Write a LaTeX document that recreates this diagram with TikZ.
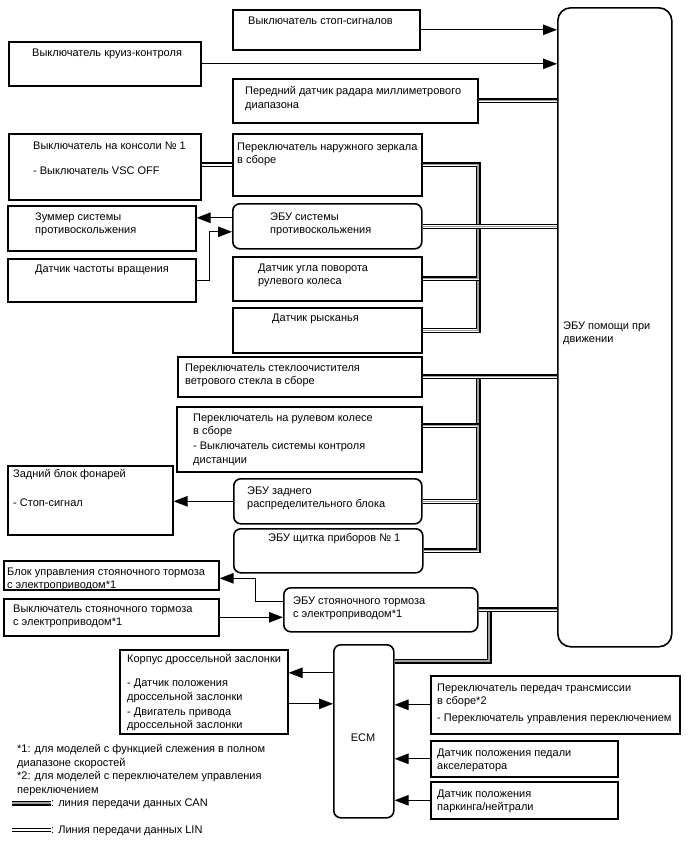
\documentclass[tikz,border=0pt]{standalone}
\usepackage{fontspec}
\setmainfont{Liberation Sans}
\usetikzlibrary{arrows.meta}

\begin{document}
\begin{tikzpicture}[
    x=1pt, y=-1pt,
    blk/.style={draw, rectangle, line width=1.6pt, anchor=north west, inner sep=0pt},
    ecu/.style={blk, rounded corners=7pt},
    txt/.style={anchor=north west, inner sep=0pt, yshift=-1.5pt, align=left, font=\fontsize{11}{13.5}\selectfont},
    arrow/.style={-{Triangle[length=14pt,width=10.5pt]}, line width=1pt},
    can/.style={draw=black, line width=5pt, postaction={draw=white, line width=2.6pt}, postaction={draw=gray!75, line width=1.2pt}},
    lin/.style={line width=1.6pt, double=white, double distance=1.6pt}
]
\useasboundingbox (0,0) rectangle (688,852);

% main ECU
\node[ecu, rounded corners=13pt, minimum width=114pt, minimum height=639pt] (assist) at (557,7) {};
\node[txt] (assist-t) at (563,320) {ЭБУ помощи при\\движении};

% upper inputs
\node[blk, minimum width=187pt, minimum height=40pt] (stop) at (232,9) {};
\node[txt] (stop-t) at (248,15) {Выключатель стоп-сигналов};
\node[blk, minimum width=192pt, minimum height=44pt] (cruise) at (8,41) {};
\node[txt] (cruise-t) at (32,47) {Выключатель круиз-контроля};
\node[blk, minimum width=245pt, minimum height=44pt] (radar) at (232,78) {};
\node[txt] (radar-t) at (245,85) {Передний датчик радара миллиметрового\\диапазона};
\node[blk, minimum width=192pt, minimum height=66pt] (console) at (8,133) {};
\node[txt] (console-t) at (33,140) {Выключатель на консоли № 1\\[11.5pt]- Выключатель VSC OFF};
\node[blk, minimum width=189pt, minimum height=62pt] (mirror) at (232,133) {};
\node[txt] (mirror-t) at (237,141) {Переключатель наружного зеркала\\в сборе};

% skid control group
\node[blk, minimum width=188pt, minimum height=45pt] (buzzer) at (7,205) {};
\node[txt] (buzzer-t) at (35,211) {Зуммер системы\\противоскольжения};
\node[blk, minimum width=188pt, minimum height=43pt] (speed) at (7,258) {};
\node[txt] (speed-t) at (35,263) {Датчик частоты вращения};
\node[ecu, minimum width=189pt, minimum height=45pt] (skid) at (232,203) {};
\node[txt] (skid-t) at (270,211) {ЭБУ системы\\противоскольжения};
\node[blk, minimum width=189pt, minimum height=44pt] (angle) at (232,256) {};
\node[txt] (angle-t) at (258,262) {Датчик угла поворота\\рулевого колеса};
\node[blk, minimum width=189pt, minimum height=45pt] (yaw) at (232,307) {};
\node[txt] (yaw-t) at (272,312) {Датчик рысканья};

% body group
\node[blk, minimum width=244pt, minimum height=40pt] (wiper) at (177,356) {};
\node[txt] (wiper-t) at (185,362) {Переключатель стеклоочистителя\\ветрового стекла в сборе};
\node[blk, minimum width=245pt, minimum height=65pt] (wheelsw) at (176,406) {};
\node[txt] (wheelsw-t) at (193,412) {Переключатель на рулевом колесе\\в сборе\\[1.5pt]- Выключатель системы контроля\\дистанции};
\node[blk, minimum width=165pt, minimum height=69pt] (lamp) at (7,465) {};
\node[txt] (lamp-t) at (13,468) {Задний блок фонарей\\[15.5pt]- Стоп-сигнал};
\node[ecu, minimum width=188pt, minimum height=45pt] (rear) at (233,478) {};
\node[txt] (rear-t) at (247,485) {ЭБУ заднего\\распределительного блока};
\node[ecu, minimum width=189pt, minimum height=44pt] (meter) at (233,528) {};
\node[txt] (meter-t) at (268,532) {ЭБУ щитка приборов № 1};

% parking brake group
\node[blk, minimum width=215pt, minimum height=29pt] (epbunit) at (3,560) {};
\node[txt] (epbunit-t) at (7,566) {Блок управления стояночного тормоза\\с электроприводом*1};
\node[blk, minimum width=215pt, minimum height=37pt] (epbsw) at (3,598) {};
\node[txt] (epbsw-t) at (13,603) {Выключатель стояночного тормоза\\с электроприводом*1};
\node[ecu, minimum width=194pt, minimum height=44pt] (epbecu) at (283,587) {};
\node[txt] (epbecu-t) at (293,595) {ЭБУ стояночного тормоза\\с электроприводом*1};

% engine group
\node[blk, minimum width=168pt, minimum height=84pt] (throttle) at (119,649) {};
\node[txt] (throttle-t) at (127,653) {Корпус дроссельной заслонки\\[10.5pt]- Датчик положения\\дроссельной заслонки\\[1.5pt]- Двигатель привода\\дроссельной заслонки};
\node[ecu, minimum width=60pt, minimum height=173pt] (ecm) at (333,644) {};
\node[txt, anchor=center] (ecm-t) at (363,736) {ECM};
\node[blk, minimum width=249pt, minimum height=58pt] (gear) at (430,675) {};
\node[txt] (gear-t) at (437,682) {Переключатель передач трансмиссии\\в сборе*2\\[3.5pt]- Переключатель управления переключением};
\node[blk, minimum width=187pt, minimum height=36pt] (accel) at (430,740) {};
\node[txt] (accel-t) at (437,747) {Датчик положения педали\\акселератора};
\node[blk, minimum width=187pt, minimum height=37pt] (park) at (430,781) {};
\node[txt] (park-t) at (437,788) {Датчик положения\\паркинга/нейтрали};

% notes and legend
\node[txt] (notes) at (17,743) {*1: для моделей с функцией слежения в полном\\диапазоне скоростей\\*2: для моделей с переключателем управления\\переключением};
\node[txt, anchor=west] (can-t) at (51,802) {: линия передачи данных CAN};
\node[txt, anchor=west] (lin-t) at (51,829) {: Линия передачи данных LIN};
\coordinate (can-a) at (12,803);
\coordinate (lin-a) at (12,830);

% bus trunks
\coordinate (busU) at (478,250);
\coordinate (busL) at (478,450);
\coordinate (busE) at (489,640);
\coordinate (swIn) at ([yshift=13.5pt]wheelsw.east);
\coordinate (ecmOut) at ([yshift=-17pt]ecm.north east);
\coordinate (thrIn) at ([yshift=19pt]throttle.east);
\coordinate (thrOut) at ([yshift=-12pt]throttle.east);

% CAN
\draw[can] (radar.east) -- (radar.east -| assist.west);
\draw[can] (mirror.east) -| (busU) |- (yaw.east);
\draw[can] (angle.east) -| (busU);
\draw[can] (skid.east) -- (skid.east -| assist.west);
\draw[can] (wiper.east -| busL) |- (meter.east);
\draw[can] (swIn) -| (busL);
\draw[can] (rear.east) -| (busL);
\draw[can] (wiper.east) -- (wiper.east -| assist.west);
\draw[can] (ecmOut) -| (busE) |- (epbecu.east);
\draw[can] (epbecu.east) -- (epbecu.east -| assist.west);
\draw[can] (can-a) -- (can-a -| can-t.west);

% LIN
\draw[lin] (mirror.west -| console.east) -- (mirror.west);
\draw[lin] (lin-a) -- (lin-a -| lin-t.west);

% signal lines
\draw[arrow] (stop.east) -- (stop.east -| assist.west);
\draw[arrow] (cruise.east) -- (cruise.east -| assist.west);
\draw[arrow] ([yshift=8.5pt]skid.west) -- ([yshift=8.5pt]skid.west -| buzzer.east);
\draw[arrow] (speed.east) -- ++(13,0) |- ([yshift=-5.5pt]skid.west);
\draw[arrow] (rear.west) -- (rear.west -| lamp.east);
\draw[arrow] ([yshift=8pt]epbecu.west) -- ++(-28,0) |- ([yshift=-3pt]epbunit.east);
\draw[arrow] (epbsw.east) -- (epbsw.east -| epbecu.west);
\draw[arrow] (thrIn -| ecm.west) -- (thrIn);
\draw[arrow] (thrOut) -- (thrOut -| ecm.west);
\draw[arrow] (gear.west) -- (gear.west -| ecm.east);
\draw[arrow] (accel.west) -- (accel.west -| ecm.east);
\draw[arrow] (park.west) -- (park.west -| ecm.east);
\end{tikzpicture}
\end{document}
